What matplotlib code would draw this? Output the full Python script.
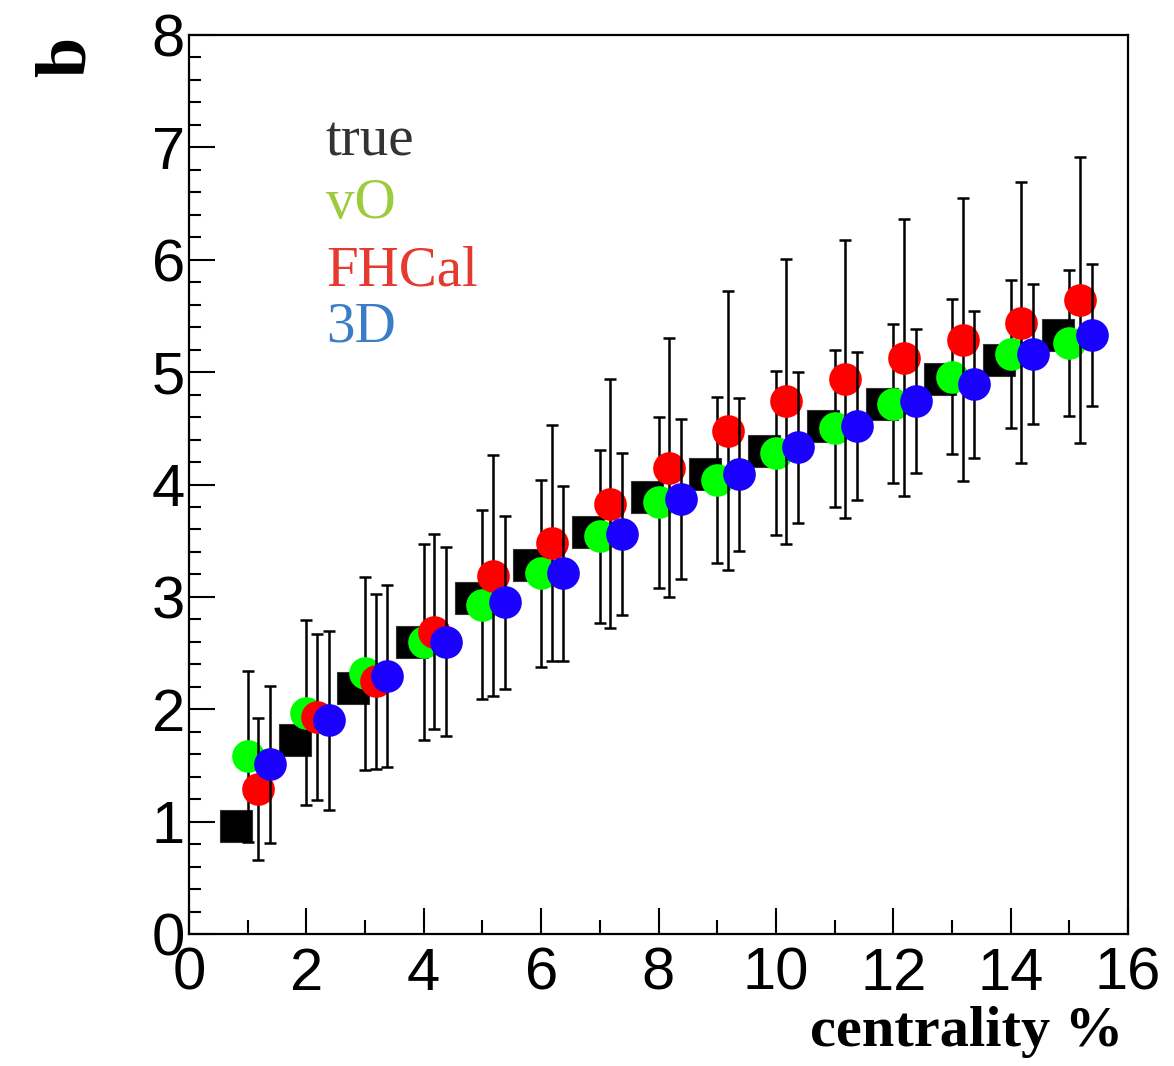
import matplotlib
matplotlib.use("Agg")
import matplotlib.pyplot as plt
import numpy as np
from matplotlib.ticker import MultipleLocator

# ---- data ----
centrality = [1, 2, 3, 4, 5, 6, 7, 8, 9, 10, 11, 12, 13, 14, 15]
true_b = [0.96, 1.73, 2.19, 2.60, 2.99, 3.28, 3.58, 3.89, 4.09, 4.30, 4.52, 4.72, 4.94, 5.11, 5.33]
v0_b = [1.58, 1.97, 2.32, 2.60, 2.93, 3.21, 3.54, 3.84, 4.04, 4.28, 4.50, 4.72, 4.96, 5.16, 5.26]
v0_err = [0.76, 0.82, 0.86, 0.87, 0.84, 0.83, 0.77, 0.76, 0.74, 0.73, 0.70, 0.71, 0.69, 0.66, 0.65]
fhcal_b = [1.29, 1.93, 2.25, 2.69, 3.19, 3.48, 3.83, 4.15, 4.48, 4.74, 4.94, 5.13, 5.29, 5.44, 5.64]
fhcal_err = [0.63, 0.74, 0.78, 0.87, 1.07, 1.05, 1.11, 1.15, 1.24, 1.27, 1.24, 1.23, 1.26, 1.25, 1.27]
d3_b = [1.51, 1.90, 2.30, 2.60, 2.95, 3.21, 3.56, 3.87, 4.09, 4.33, 4.52, 4.74, 4.89, 5.16, 5.33]
d3_err = [0.70, 0.80, 0.81, 0.84, 0.77, 0.78, 0.72, 0.71, 0.68, 0.67, 0.66, 0.64, 0.65, 0.62, 0.63]
legend_labels = ["true", "vO", "FHCal", "3D"]

W, H = 1174, 1066
fig = plt.figure(figsize=(W / 100, H / 100), dpi=100)
ax = fig.add_axes([189 / W, 1 - 934 / H, (1128 - 189) / W, (934 - 35) / H])

c = np.array(centrality, dtype=float)
ms = 23.5

ax.plot(c - 0.2, true_b, 's', color='black', markersize=ms, zorder=2,
        markeredgecolor='#333333', markeredgewidth=0.8)

series = [
    (c + 0.0, v0_b, v0_err, '#00ff00', 3),
    (c + 0.18, fhcal_b, fhcal_err, '#ff0000', 4),
    (c + 0.38, d3_b, d3_err, '#1a00ff', 5),
]
for x, y, e, col, z in series:
    ax.errorbar(x, y, yerr=e, fmt='none', ecolor='black', elinewidth=1.8,
                capsize=4, capthick=1.8, zorder=z)
    ax.plot(x, y, 'o', color=col, markersize=ms, markeredgewidth=0, zorder=z + 0.5)

ax.set_xlim(0, 16)
ax.set_ylim(0, 8)
ax.xaxis.set_major_locator(MultipleLocator(2))
ax.xaxis.set_minor_locator(MultipleLocator(1))
ax.yaxis.set_major_locator(MultipleLocator(1))
ax.yaxis.set_minor_locator(MultipleLocator(0.2))
ax.tick_params(which='both', direction='in', top=False, right=False, width=1.5)
ax.tick_params(which='major', length=19)
ax.tick_params(axis='y', which='minor', length=8.5)
ax.tick_params(axis='x', which='minor', length=10)
ax.tick_params(axis='x', which='major', pad=9)
ax.tick_params(axis='y', which='major', pad=3)
for lab in ax.get_xticklabels() + ax.get_yticklabels():
    lab.set_fontfamily('Liberation Sans')
    lab.set_fontsize(43)
for s in ax.spines.values():
    s.set_linewidth(1.6)

fig.text(1123 / W, 1 - 1046 / H, "centrality %", ha='right', va='baseline',
         fontfamily='Liberation Serif', fontweight='bold', fontsize=42)
fig.text(100 / W, 1 - 57 / H, "b", ha='right', va='center', rotation=90,
         fontfamily='Liberation Serif', fontweight='bold', fontsize=52)

leg_colors = ['#333333', '#9ccc3c', '#e53a2f', '#3a7cc8']
leg_base = [155, 218, 285, 342]
for lab, col, yb in zip(legend_labels, leg_colors, leg_base):
    fig.text(326 / W, 1 - yb / H, lab, ha='left', va='baseline', color=col,
             fontfamily='Liberation Serif', fontsize=41)

fig.savefig("out.png", dpi=100)
